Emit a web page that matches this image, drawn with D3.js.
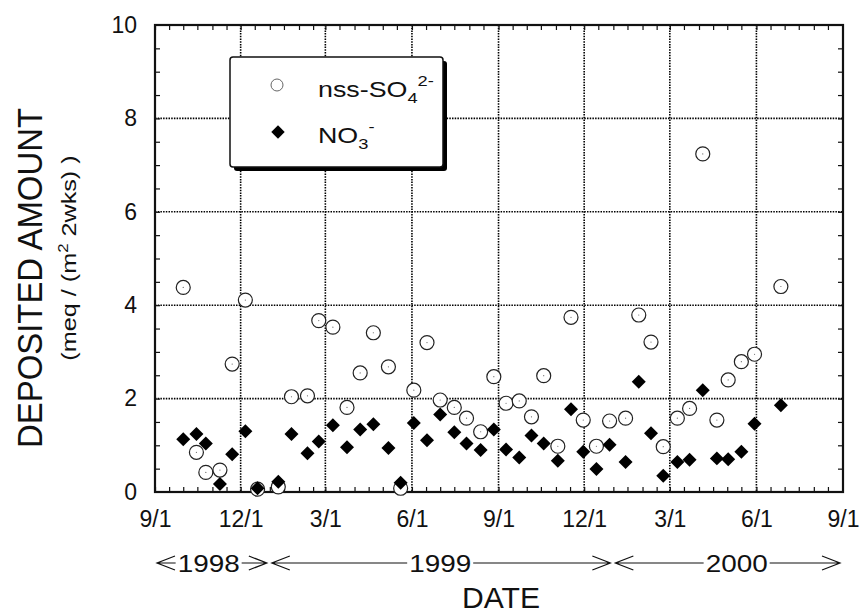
<!DOCTYPE html>
<html>
<head>
<meta charset="utf-8">
<script src="https://cdn.jsdelivr.net/npm/d3@7"></script>
<style>
  body { margin: 0; background: #fff; }
  svg text { font-family: "Liberation Sans", Arial, Helvetica, sans-serif; fill: #111; }
</style>
</head>
<body>
<svg id="chart" width="860" height="616"></svg>
<script>
// two-week sampling dates
const sampleDates = [
  "1998-10-01", "1998-10-15", "1998-10-25", "1998-11-09", "1998-11-22", "1998-12-06", "1998-12-19",
  "1999-01-10", "1999-01-24", "1999-02-10", "1999-02-22", "1999-03-09", "1999-03-24", "1999-04-07",
  "1999-04-21", "1999-05-07", "1999-05-20", "1999-06-03", "1999-06-17", "1999-07-01", "1999-07-16",
  "1999-07-29", "1999-08-13", "1999-08-27", "1999-09-09", "1999-09-23", "1999-10-06", "1999-10-19",
  "1999-11-03", "1999-11-17", "1999-11-30", "1999-12-14", "1999-12-28", "2000-01-14", "2000-01-28",
  "2000-02-10", "2000-02-23", "2000-03-09", "2000-03-22", "2000-04-05", "2000-04-20", "2000-05-02",
  "2000-05-16", "2000-05-30", "2000-06-27"
];
const nssSO4 = [
  4.38, 0.85, 0.42, 0.47, 2.74, 4.11, 0.06,
  0.11, 2.04, 2.06, 3.67, 3.53, 1.81, 2.55,
  3.41, 2.68, 0.08, 2.18, 3.20, 1.97, 1.81,
  1.58, 1.29, 2.47, 1.90, 1.95, 1.61, 2.49,
  0.98, 3.74, 1.54, 0.98, 1.52, 1.58, 3.79,
  3.21, 0.97, 1.58, 1.79, 7.24, 1.54, 2.40,
  2.79, 2.95, 4.40
];
const no3 = [
  1.13, 1.24, 1.04, 0.17, 0.81, 1.30, 0.08,
  0.22, 1.24, 0.83, 1.08, 1.43, 0.96, 1.34,
  1.45, 0.94, 0.20, 1.48, 1.11, 1.66, 1.28,
  1.04, 0.90, 1.34, 0.91, 0.74, 1.21, 1.04,
  0.67, 1.77, 0.86, 0.49, 1.01, 0.64, 2.36,
  1.26, 0.35, 0.64, 0.69, 2.18, 0.72, 0.70,
  0.86, 1.46, 1.86
];

const xTickDates = ["1998-09-01", "1998-12-01", "1999-03-01", "1999-06-01", "1999-09-01",
                    "1999-12-01", "2000-03-01", "2000-06-01", "2000-09-01"];
const xTickLabels = ["9/1", "12/1", "3/1", "6/1", "9/1", "12/1", "3/1", "6/1", "9/1"];
const yTicks = [0, 2, 4, 6, 8, 10];

const years = ["1998", "1999", "2000"];
const yearStarts = ["1998-09-01", "1999-01-01", "2000-01-01"];
const yearEnds = ["1999-01-01", "2000-01-01", "2000-09-01"];
const yearLabelAt = ["1998-10-28", "1999-07-01", "2000-05-11"];

const parse = d3.timeParse("%Y-%m-%d");
const svg = d3.select("#chart");
const margin = { top: 25, right: 17, bottom: 124, left: 155 };
const W = 860, H = 616;

const x = d3.scaleTime()
  .domain([parse(xTickDates[0]), parse(xTickDates[xTickDates.length - 1])])
  .range([margin.left, W - margin.right]);
const y = d3.scaleLinear()
  .domain([0, 10])
  .range([H - margin.bottom, margin.top]);

const x0 = x.range()[0], x1 = x.range()[1];
const y0 = y.range()[0], y1 = y.range()[1];

// grid
const grid = svg.append("g")
  .attr("stroke", "#000")
  .attr("stroke-width", 1.6)
  .attr("stroke-dasharray", "1.5,1.2");
grid.selectAll("line.v")
  .data(xTickDates.slice(1, -1))
  .join("line")
  .attr("x1", d => x(parse(d))).attr("x2", d => x(parse(d)))
  .attr("y1", y1).attr("y2", y0);
grid.selectAll("line.h")
  .data(yTicks.slice(1, -1))
  .join("line")
  .attr("x1", x0).attr("x2", x1)
  .attr("y1", d => y(d)).attr("y2", d => y(d));

// minor ticks (half-month on x, 0.5 on y), drawn inward on all four sides
const minorX = [];
d3.timeMonth.range(x.domain()[0], x.domain()[1]).forEach(m => {
  minorX.push(m, d3.timeDay.offset(m, 15));
});
const minorY = d3.range(0.5, 10, 0.5);
const tickLen = 5;

svg.append("g")
  .attr("transform", `translate(0,${y0})`)
  .call(d3.axisBottom(x).tickValues(minorX).tickSize(-tickLen).tickFormat(""))
  .call(g => g.select(".domain").remove())
  .selectAll("line").attr("stroke", "#111").attr("stroke-width", 1.2);
svg.append("g")
  .attr("transform", `translate(0,${y1})`)
  .call(d3.axisTop(x).tickValues(minorX).tickSize(-tickLen).tickFormat(""))
  .call(g => g.select(".domain").remove())
  .selectAll("line").attr("stroke", "#111").attr("stroke-width", 1.2);
svg.append("g")
  .attr("transform", `translate(${x0},0)`)
  .call(d3.axisLeft(y).tickValues(minorY).tickSize(-tickLen).tickFormat(""))
  .call(g => g.select(".domain").remove())
  .selectAll("line").attr("stroke", "#111").attr("stroke-width", 1.2);
svg.append("g")
  .attr("transform", `translate(${x1},0)`)
  .call(d3.axisRight(y).tickValues(minorY).tickSize(-tickLen).tickFormat(""))
  .call(g => g.select(".domain").remove())
  .selectAll("line").attr("stroke", "#111").attr("stroke-width", 1.2);

// tick labels
svg.append("g")
  .attr("transform", `translate(0,${y0})`)
  .call(d3.axisBottom(x)
    .tickValues(xTickDates.map(parse))
    .tickFormat((d, i) => xTickLabels[i])
    .tickSize(0).tickPadding(19))
  .call(g => g.select(".domain").remove())
  .selectAll("text")
  .attr("font-size", 23)
  .attr("fill", "#111");

svg.append("g")
  .attr("transform", `translate(${x0},0)`)
  .call(d3.axisLeft(y).tickValues(yTicks).tickSize(0).tickPadding(18))
  .call(g => g.select(".domain").remove())
  .selectAll("text")
  .attr("font-size", 23)
  .attr("fill", "#111");

// frame
svg.append("rect")
  .attr("x", x0).attr("y", y1)
  .attr("width", x1 - x0).attr("height", y0 - y1)
  .attr("fill", "none")
  .attr("stroke", "#111")
  .attr("stroke-width", 2.2);

// data
const plot = svg.append("g");
plot.selectAll("circle.so4")
  .data(sampleDates)
  .join("circle")
  .attr("class", "so4")
  .attr("cx", d => x(parse(d)))
  .attr("cy", (d, i) => y(nssSO4[i]))
  .attr("r", 7)
  .attr("fill", "#fff")
  .attr("stroke", "#222")
  .attr("stroke-width", 1.2);
plot.selectAll("circle.dot")
  .data(sampleDates)
  .join("circle")
  .attr("class", "dot")
  .attr("cx", d => x(parse(d)))
  .attr("cy", (d, i) => y(nssSO4[i]))
  .attr("r", 0.6)
  .attr("fill", "#666");

const diamond = d3.symbol(d3.symbolSquare, 98);
plot.selectAll("path.no3")
  .data(sampleDates)
  .join("path")
  .attr("class", "no3")
  .attr("d", diamond)
  .attr("transform", (d, i) => `translate(${x(parse(d))},${y(no3[i])}) rotate(45)`)
  .attr("fill", "#000");

// legend
const lg = svg.append("g");
lg.append("rect")
  .attr("x", 234).attr("y", 61).attr("width", 213).attr("height", 110)
  .attr("rx", 3).attr("fill", "#000");
lg.append("rect")
  .attr("x", 230).attr("y", 57).attr("width", 213).attr("height", 110)
  .attr("rx", 3).attr("fill", "#fff").attr("stroke", "#111").attr("stroke-width", 1.5);
lg.append("circle")
  .attr("cx", 277).attr("cy", 85).attr("r", 6)
  .attr("fill", "#fff").attr("stroke", "#666").attr("stroke-width", 1);
lg.append("path")
  .attr("d", d3.symbol(d3.symbolSquare, 90))
  .attr("transform", "translate(278,132) rotate(45)")
  .attr("fill", "#000");

const t1 = lg.append("text")
  .attr("transform", "translate(318,97) scale(1.22,1)")
  .attr("font-size", 22);
t1.append("tspan").text("nss-SO");
t1.append("tspan").attr("font-size", 15).attr("dy", 6).text("4");
t1.append("tspan").attr("font-size", 15).attr("dy", -17).text("2-");

const t2 = lg.append("text")
  .attr("transform", "translate(318,143) scale(1.22,1)")
  .attr("font-size", 22);
t2.append("tspan").text("NO");
t2.append("tspan").attr("font-size", 15).attr("dy", 6).text("3");
t2.append("tspan").attr("font-size", 15).attr("dy", -17).text("-");

// year arrows
const yearY = 563;
const yr = svg.append("g");
years.forEach((label, i) => {
  const a = x(parse(yearStarts[i])) + 2;
  const b = x(parse(yearEnds[i])) - 3;
  const c = x(parse(yearLabelAt[i]));
  const half = 31;
  yr.append("path")
    .attr("d", `M${a},${yearY}H${c - half - 2}M${c + half + 2},${yearY}H${b}` +
               `M${a + 18},${yearY - 7}L${a},${yearY}L${a + 18},${yearY + 7}` +
               `M${b - 18},${yearY - 7}L${b},${yearY}L${b - 18},${yearY + 7}`)
    .attr("fill", "none")
    .attr("stroke", "#111")
    .attr("stroke-width", 1.2);
  yr.append("text")
    .attr("x", c).attr("y", yearY + 9)
    .attr("text-anchor", "middle")
    .attr("font-size", 23)
    .attr("textLength", 62)
    .attr("lengthAdjust", "spacingAndGlyphs")
    .text(label);
});

// axis titles
svg.append("text")
  .attr("x", 501).attr("y", 608)
  .attr("text-anchor", "middle")
  .attr("font-size", 30)
  .attr("textLength", 78)
  .attr("lengthAdjust", "spacingAndGlyphs")
  .text("DATE");

svg.append("text")
  .attr("transform", "translate(42,278) rotate(-90)")
  .attr("text-anchor", "middle")
  .attr("font-size", 35)
  .attr("textLength", 340)
  .attr("lengthAdjust", "spacingAndGlyphs")
  .text("DEPOSITED AMOUNT");

const sub = svg.append("text")
  .attr("transform", "translate(76,258) rotate(-90) scale(1.2,1)")
  .attr("text-anchor", "middle")
  .attr("font-size", 21);
sub.append("tspan").text("(meq / (m");
sub.append("tspan").attr("font-size", 14).attr("dy", -8).text("2");
sub.append("tspan").attr("dy", 8).text(" 2wks) )");
</script>
</body>
</html>
